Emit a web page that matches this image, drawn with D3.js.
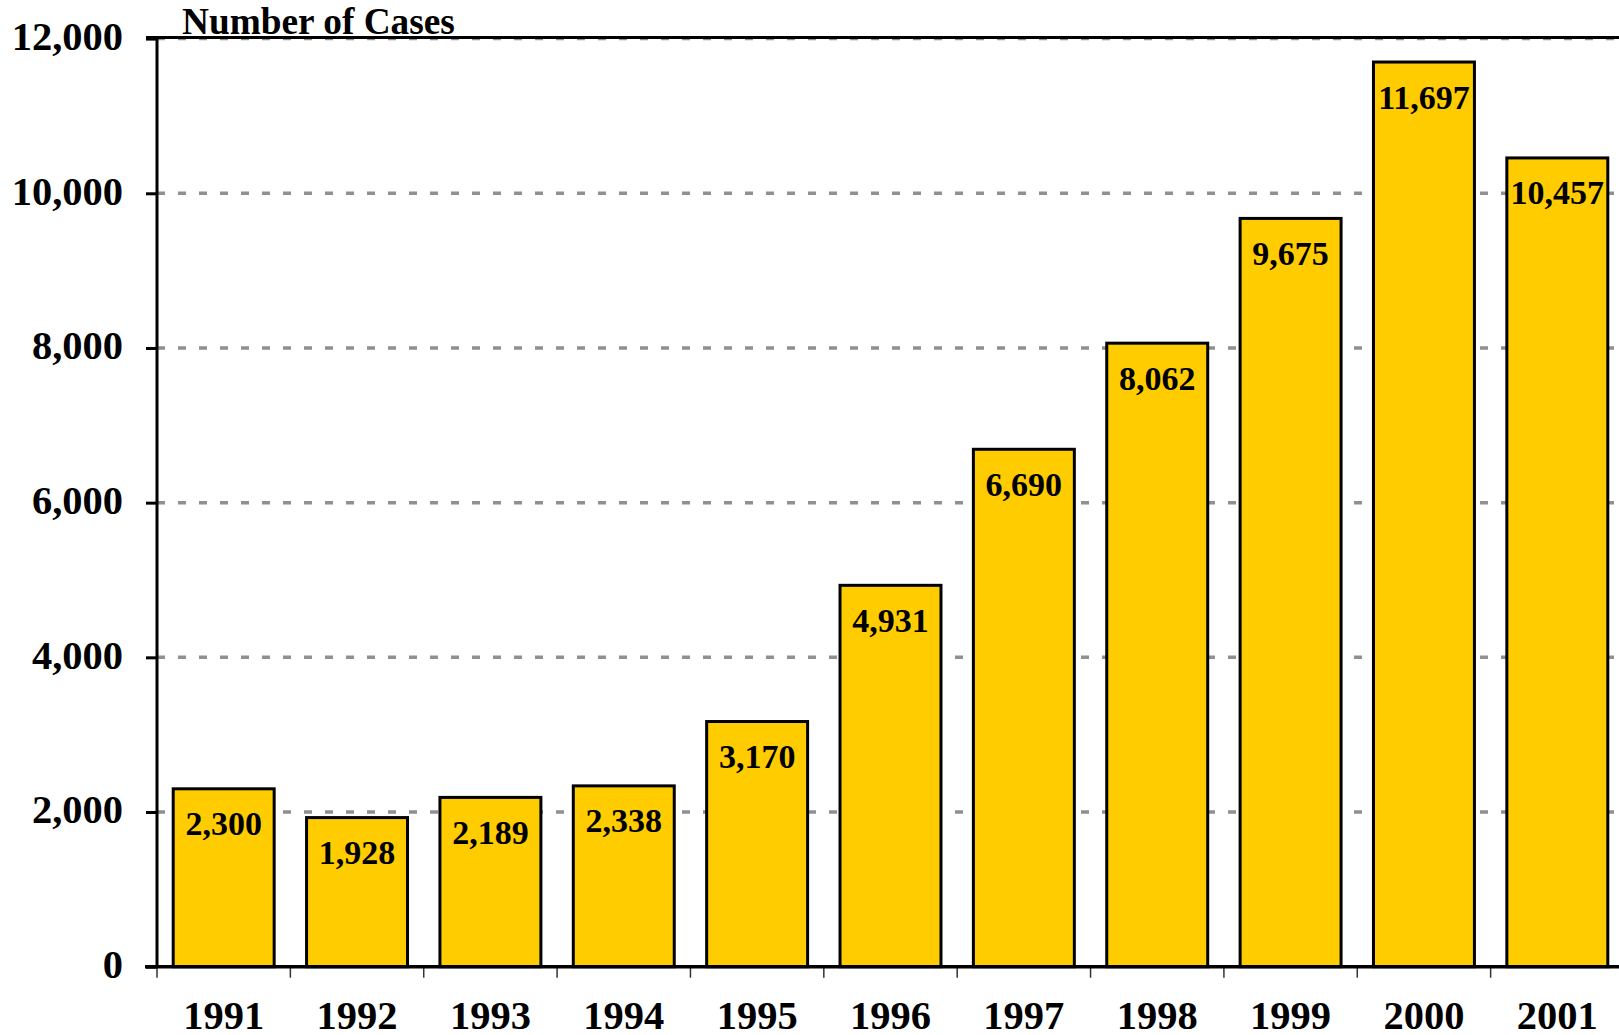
<!DOCTYPE html>
<html>
<head>
<meta charset="utf-8">
<script src="https://cdn.jsdelivr.net/npm/d3@7"></script>
<style>
    body { margin: 0; background: #ffffff; }
    svg { display: block; }
    text { font-family: "Liberation Serif", "Times New Roman", serif; font-weight: bold; fill: #000; }
</style>
</head>
<body>
<svg id="chart" width="1619" height="1035"></svg>
<script>
// data
let years = ["1991", "1992", "1993", "1994", "1995", "1996", "1997", "1998", "1999", "2000", "2001"]
let cases = [2300, 1928, 2189, 2338, 3170, 4931, 6690, 8062, 9675, 11697, 10457]
let yTicks = [0, 2000, 4000, 6000, 8000, 10000, 12000]
let yTitle = "Number of Cases"

let data = years.map(function(d, i) { return {year: d, value: cases[i]} })

let svg = d3.select("#chart")

let plotLeft = 157, plotRight = 1624, plotTop = 38.6, plotBottom = 966.7

let xScale = d3.scaleBand()
    .domain(years)
    .range([plotLeft, plotRight])
    .paddingInner(0.243)
    .paddingOuter(0.1215)

let yScale = d3.scaleLinear()
    .domain([0, 12000])
    .range([plotBottom, plotTop])

let step = xScale.step()
let gap = (step - xScale.bandwidth()) / 2

// dashed grid lines
svg.append("g")
    .selectAll("line")
    .data(yTicks.filter(function(d) { return d > 0 }))
    .join("line")
    .attr("x1", plotLeft)
    .attr("x2", 1619)
    .attr("y1", function(d) { return yScale(d) })
    .attr("y2", function(d) { return yScale(d) })
    .attr("stroke", "#909090")
    .attr("stroke-width", 3.5)
    .attr("stroke-dasharray", "8,13")

// bars
svg.append("g")
    .selectAll("rect")
    .data(data)
    .join("rect")
    .attr("x", function(d) { return xScale(d.year) })
    .attr("y", function(d) { return yScale(d.value) })
    .attr("width", xScale.bandwidth())
    .attr("height", function(d) { return plotBottom - yScale(d.value) })
    .attr("fill", "#FFCC00")
    .attr("stroke", "#000")
    .attr("stroke-width", 3)

// value labels inside the top of each bar
svg.append("g")
    .selectAll("text")
    .data(data)
    .join("text")
    .attr("x", function(d) { return xScale(d.year) + xScale.bandwidth() / 2 })
    .attr("y", function(d) { return yScale(d.value) + 46.5 })
    .attr("text-anchor", "middle")
    .style("font-size", "34px")
    .text(function(d) { return d3.format(",")(d.value) })

// top border line
svg.append("line")
    .attr("x1", 146).attr("x2", 1619)
    .attr("y1", plotTop - 1.2).attr("y2", plotTop - 1.2)
    .attr("stroke", "#000")
    .attr("stroke-width", 3)

// y axis
let yAxis = svg.append("g")
    .attr("transform", `translate(${plotLeft}, 0)`)
    .call(d3.axisLeft(yScale).tickValues(yTicks).tickSize(11).tickSizeOuter(0).tickPadding(23).tickFormat(d3.format(",")))

yAxis.select(".domain")
    .attr("d", `M0,${plotTop - 2.7}V${plotBottom}`)
    .attr("stroke", "#000")
    .attr("stroke-width", 3)
yAxis.selectAll(".tick line").attr("stroke", "#000").attr("stroke-width", 3)
yAxis.selectAll(".tick text")
    .style("font-size", "40.5px")
    .style("font-family", "'Liberation Serif', 'Times New Roman', serif")
    .style("font-weight", "bold")
    .attr("dy", "0.27em")

// x axis: labels centred, ticks on the category boundaries
let xAxis = svg.append("g")
    .attr("transform", `translate(0, ${plotBottom})`)
    .call(d3.axisBottom(xScale).tickSize(0).tickSizeOuter(0))

xAxis.select(".domain").remove()
xAxis.selectAll(".tick text")
    .attr("y", 62)
    .attr("dy", null)
    .style("font-size", "40.5px")
    .style("font-family", "'Liberation Serif', 'Times New Roman', serif")
    .style("font-weight", "bold")

svg.append("g")
    .selectAll("line")
    .data(years)
    .join("line")
    .attr("x1", function(d) { return xScale(d) - gap })
    .attr("x2", function(d) { return xScale(d) - gap })
    .attr("y1", plotBottom)
    .attr("y2", plotBottom + 11)
    .attr("stroke", "#333")
    .attr("stroke-width", 1.5)

svg.append("line")
    .attr("x1", 145).attr("x2", 1619)
    .attr("y1", plotBottom).attr("y2", plotBottom)
    .attr("stroke", "#000")
    .attr("stroke-width", 3.5)

// axis title
svg.append("text")
    .attr("x", 182)
    .attr("y", 34)
    .style("font-size", "37.3px")
    .text(yTitle)
</script>
</body>
</html>
